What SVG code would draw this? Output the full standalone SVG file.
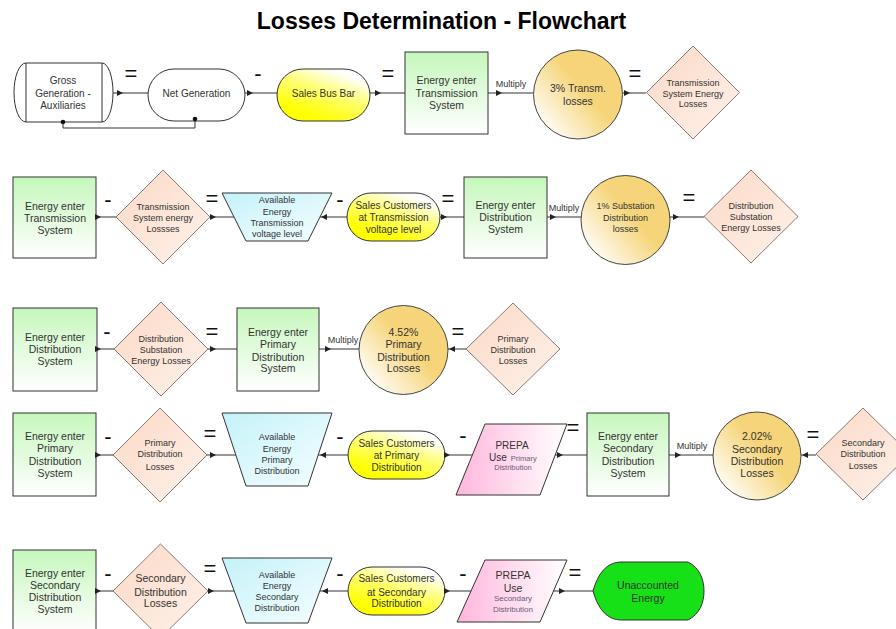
<svg xmlns="http://www.w3.org/2000/svg" xmlns:xlink="http://www.w3.org/1999/xlink" width="896" height="629" viewBox="0 0 896 629">
<defs>
<linearGradient id="gGreen" x1="0" y1="0" x2="0" y2="1"><stop offset="0" stop-color="#c6f7bc"/><stop offset="1" stop-color="#ffffff"/></linearGradient>
<linearGradient id="gYellow" x1="0.2" y1="1" x2="0.8" y2="0"><stop offset="0.15" stop-color="#ffff00"/><stop offset="0.55" stop-color="#ffff70"/><stop offset="0.9" stop-color="#ffffff"/></linearGradient>
<linearGradient id="gOrange" x1="0.1" y1="0.9" x2="0.8" y2="0.3"><stop offset="0" stop-color="#ffffff"/><stop offset="0.7" stop-color="#f6d57a"/></linearGradient>
<linearGradient id="gPeach" x1="0" y1="0" x2="1" y2="1"><stop offset="0" stop-color="#fbd9c6"/><stop offset="1" stop-color="#fff2eb"/></linearGradient>
<linearGradient id="gCyan" x1="0" y1="0" x2="1" y2="1"><stop offset="0" stop-color="#c4f2f9"/><stop offset="1" stop-color="#f6feff"/></linearGradient>
<linearGradient id="gPink" x1="0" y1="0" x2="1" y2="0"><stop offset="0" stop-color="#ffb6dc"/><stop offset="1" stop-color="#ffffff"/></linearGradient>
<path id="ar" d="M0,0 L-6,-3 L-6,3 Z" fill="#222"/>
</defs>
<style>
.t{font-family:"Liberation Sans",Arial,sans-serif;fill:#333;text-anchor:middle}
.s10{font-size:10px}
.s105{font-size:10.5px}
.s9{font-size:9px}
.sm{font-family:"Liberation Sans",Arial,sans-serif;fill:#6b5b7b;font-size:7.5px;text-anchor:middle}
.op{font-family:"Liberation Sans",Arial,sans-serif;font-size:22px;fill:#111;text-anchor:middle}
.ln{stroke:#333;stroke-width:1;fill:none}
.box{fill:url(#gGreen);stroke:#333;stroke-width:1}
.stad{fill:url(#gYellow);stroke:#333;stroke-width:1}
.circ{fill:url(#gOrange);stroke:#444;stroke-width:1}
.dia{fill:url(#gPeach);stroke:#8a7a72;stroke-width:1}
.trap{fill:url(#gCyan);stroke:#333;stroke-width:1}
.para{fill:url(#gPink);stroke:#333;stroke-width:1}
</style>
<rect width="896" height="629" fill="#ffffff"/>
<text x="441.5" y="29" font-family="Liberation Sans, Arial, sans-serif" font-size="23" font-weight="bold" text-anchor="middle" fill="#000">Losses Determination - Flowchart</text>

<g id="operators">
<text class="op" x="131" y="81">=</text>
<text class="op" x="258" y="81">-</text>
<text class="op" x="388" y="81">=</text>
<text class="op" x="635" y="81">=</text>
<text class="op" x="108" y="207">-</text>
<text class="op" x="212" y="206">=</text>
<text class="op" x="340" y="207">-</text>
<text class="op" x="448" y="206">=</text>
<text class="op" x="689" y="205">=</text>
<text class="op" x="107" y="339">-</text>
<text class="op" x="212" y="339">=</text>
<text class="op" x="458" y="339">=</text>
<text class="op" x="108" y="444">-</text>
<text class="op" x="210" y="441">=</text>
<text class="op" x="340" y="444">-</text>
<text class="op" x="463" y="443">-</text>
<text class="op" x="573" y="435">=</text>
<text class="op" x="813" y="442">=</text>
<text class="op" x="108" y="581">-</text>
<text class="op" x="210" y="576">=</text>
<text class="op" x="340" y="581">-</text>
<text class="op" x="463" y="581">-</text>
<text class="op" x="575" y="580">=</text>
</g>

<!-- Row 1 -->
<g id="gross">
<path d="M26,63 L102,63 A11,29.5 0 0 1 102,122 L26,122 A12,29.5 0 0 1 26,63 Z" fill="#fff" stroke="#333"/>
<line class="ln" x1="26" y1="63" x2="26" y2="122"/>
<line class="ln" x1="102" y1="63" x2="102" y2="122"/>
<text class="t s10" x="63" y="84">Gross</text>
<text class="t s10" x="63" y="96.5">Generation -</text>
<text class="t s10" x="63" y="108.5">Auxiliaries</text>
</g>
<g id="net_generation">
<rect x="148" y="69" width="97" height="52" rx="26" fill="#fff" stroke="#333"/>
<text class="t s10" x="196.5" y="96.5">Net Generation</text>
</g>
<g id="sales_bus_bar">
<rect x="277" y="69" width="93" height="52" rx="26" class="stad"/>
<text class="t s10" x="323.5" y="96.5">Sales Bus Bar</text>
</g>
<g id="energy_transmission_1">
<rect x="405" y="52" width="83" height="82" class="box"/>
<text class="t s105" x="446.5" y="84">Energy enter</text>
<text class="t s105" x="446.5" y="97">Transmission</text>
<text class="t s105" x="446.5" y="109">System</text>
</g>
<g id="transm_losses_pct">
<circle cx="578" cy="94.5" r="44.5" class="circ"/>
<text class="t s105" x="578" y="92">3% Transm.</text>
<text class="t s105" x="578" y="105">losses</text>
</g>
<g id="transmission_energy_losses_1">
<polygon points="693,46 739.5,92.5 693,139 646.5,92.5" class="dia"/>
<text class="t s9" x="693" y="86">Transmission</text>
<text class="t s9" x="693" y="96.5">System Energy</text>
<text class="t s9" x="693" y="107">Losses</text>
</g>

<!-- Row 2 -->
<g id="energy_transmission_2">
<rect x="13" y="177" width="83" height="81" class="box"/>
<text class="t s105" x="55" y="210">Energy enter</text>
<text class="t s105" x="55" y="222">Transmission</text>
<text class="t s105" x="55" y="234">System</text>
</g>
<g id="transmission_energy_losses_2">
<polygon points="163,170 210,217 163,264 116,217" class="dia"/>
<text class="t s9" x="163" y="210">Transmission</text>
<text class="t s9" x="163" y="221">System energy</text>
<text class="t s9" x="163" y="232">Lossses</text>
</g>
<g id="available_transmission">
<polygon points="222,193 332,193 308,241 246,241" class="trap"/>
<text class="t s9" x="277" y="203">Available</text>
<text class="t s9" x="277" y="215">Energy</text>
<text class="t s9" x="277" y="226">Transmission</text>
<text class="t s9" x="277" y="237">voltage level</text>
</g>
<g id="sales_transmission">
<rect x="347" y="193" width="93" height="48" rx="24" class="stad"/>
<text class="t s10" x="393.5" y="208.5">Sales Customers</text>
<text class="t s10" x="393.5" y="220.5">at Transmission</text>
<text class="t s10" x="393.5" y="232.5">voltage level</text>
</g>
<g id="energy_distribution_1">
<rect x="464" y="177" width="83" height="81" class="box"/>
<text class="t s105" x="505.5" y="209">Energy enter</text>
<text class="t s105" x="505.5" y="221">Distribution</text>
<text class="t s105" x="505.5" y="233">System</text>
</g>
<g id="substation_losses_pct">
<circle cx="625.5" cy="220" r="44.5" class="circ"/>
<text class="t s9" x="625.5" y="209">1% Substation</text>
<text class="t s9" x="625.5" y="221">Distribution</text>
<text class="t s9" x="625.5" y="232">losses</text>
</g>
<g id="substation_energy_losses_1">
<polygon points="751,170 798,216.5 751,263 704,216.5" class="dia"/>
<text class="t s9" x="751" y="209">Distribution</text>
<text class="t s9" x="751" y="219.5">Substation</text>
<text class="t s9" x="751" y="230.5">Energy Losses</text>
</g>

<!-- Row 3 -->
<g id="energy_distribution_2">
<rect x="13" y="308" width="84" height="83" class="box"/>
<text class="t s105" x="55" y="341">Energy enter</text>
<text class="t s105" x="55" y="353">Distribution</text>
<text class="t s105" x="55" y="365">System</text>
</g>
<g id="substation_energy_losses_2">
<polygon points="161,302 208,349 161,396 114,349" class="dia"/>
<text class="t s9" x="161" y="342">Distribution</text>
<text class="t s9" x="161" y="353">Substation</text>
<text class="t s9" x="161" y="363.5">Energy Losses</text>
</g>
<g id="energy_primary_1">
<rect x="237" y="308" width="82" height="83" class="box"/>
<text class="t s105" x="278" y="336">Energy enter</text>
<text class="t s105" x="278" y="348">Primary</text>
<text class="t s105" x="278" y="361">Distribution</text>
<text class="t s105" x="278" y="372">System</text>
</g>
<g id="primary_losses_pct">
<circle cx="403.5" cy="350" r="44.5" class="circ"/>
<text class="t s105" x="403.5" y="336">4.52%</text>
<text class="t s105" x="403.5" y="348">Primary</text>
<text class="t s105" x="403.5" y="361">Distribution</text>
<text class="t s105" x="403.5" y="372">Losses</text>
</g>
<g id="primary_losses_1">
<polygon points="513,303 560,349 513,395 466,349" class="dia"/>
<text class="t s9" x="513" y="342">Primary</text>
<text class="t s9" x="513" y="353">Distribution</text>
<text class="t s9" x="513" y="364">Losses</text>
</g>

<!-- Row 4 -->
<g id="energy_primary_2">
<rect x="13" y="413" width="83" height="83" class="box"/>
<text class="t s105" x="55" y="440">Energy enter</text>
<text class="t s105" x="55" y="452">Primary</text>
<text class="t s105" x="55" y="465">Distribution</text>
<text class="t s105" x="55" y="477">System</text>
</g>
<g id="primary_losses_2">
<polygon points="160,408 207,455 160,502 113,455" class="dia"/>
<text class="t s9" x="160" y="446">Primary</text>
<text class="t s9" x="160" y="457">Distribution</text>
<text class="t s9" x="160" y="470">Losses</text>
</g>
<g id="available_primary">
<polygon points="222,413 332,413 308,486 246,486" class="trap"/>
<text class="t s9" x="277" y="440">Available</text>
<text class="t s9" x="277" y="452">Energy</text>
<text class="t s9" x="277" y="463">Primary</text>
<text class="t s9" x="277" y="474">Distribution</text>
</g>
<g id="sales_primary">
<rect x="348" y="431" width="97" height="48" rx="24" class="stad"/>
<text class="t s10" x="396.5" y="446.5">Sales Customers</text>
<text class="t s10" x="396.5" y="458.5">at Primary</text>
<text class="t s10" x="396.5" y="470.5">Distribution</text>
</g>
<g id="prepa_primary">
<polygon points="485,424 567,424 540,495 456,495" class="para"/>
<text class="t s10" x="512" y="449">PREPA</text>
<text class="t s10" x="489" y="461" style="text-anchor:start">Use<tspan class="sm" dx="4" style="text-anchor:start">Primary</tspan></text>
<text class="sm" x="513" y="469.5">Distribution</text>
</g>
<g id="energy_secondary_1">
<rect x="587" y="413" width="82" height="83" class="box"/>
<text class="t s105" x="628" y="440">Energy enter</text>
<text class="t s105" x="628" y="452">Secondary</text>
<text class="t s105" x="628" y="465">Distribution</text>
<text class="t s105" x="628" y="477">System</text>
</g>
<g id="secondary_losses_pct">
<circle cx="757" cy="456" r="44" class="circ"/>
<text class="t s105" x="757" y="440">2.02%</text>
<text class="t s105" x="757" y="452.5">Secondary</text>
<text class="t s105" x="757" y="465">Distribution</text>
<text class="t s105" x="757" y="477">Losses</text>
</g>
<g id="secondary_losses_1">
<polygon points="863,408 910,454 863,500 816,454" class="dia"/>
<text class="t s9" x="863" y="446">Secondary</text>
<text class="t s9" x="863" y="457">Distribution</text>
<text class="t s9" x="863" y="469">Losses</text>
</g>

<!-- Row 5 -->
<g id="energy_secondary_2">
<rect x="13" y="550" width="83" height="83" class="box"/>
<text class="t s105" x="55" y="577">Energy enter</text>
<text class="t s105" x="55" y="589">Secondary</text>
<text class="t s105" x="55" y="601">Distribution</text>
<text class="t s105" x="55" y="613">System</text>
</g>
<g id="secondary_losses_2">
<polygon points="160.5,544 208,591 160.5,638 113,591" class="dia"/>
<text class="t s105" x="160.5" y="582">Secondary</text>
<text class="t s105" x="160.5" y="596">Distribution</text>
<text class="t s105" x="160.5" y="607">Losses</text>
</g>
<g id="available_secondary">
<polygon points="222,558 332,558 308,623 246,623" class="trap"/>
<text class="t s9" x="277" y="578">Available</text>
<text class="t s9" x="277" y="589">Energy</text>
<text class="t s9" x="277" y="600">Secondary</text>
<text class="t s9" x="277" y="611">Distribution</text>
</g>
<g id="sales_secondary">
<rect x="348" y="567" width="97" height="48" rx="24" class="stad"/>
<text class="t s10" x="396.5" y="581.5">Sales Customers</text>
<text class="t s10" x="396.5" y="595.5">at Secondary</text>
<text class="t s10" x="396.5" y="606.5">Distribution</text>
</g>
<g id="prepa_secondary">
<polygon points="485,560 567,560 540,622 457,622" class="para"/>
<text class="t s105" x="513" y="579">PREPA</text>
<text class="t s105" x="513" y="592">Use</text>
<text class="sm" x="513" y="600.5" style="font-size:8px">Secondary</text>
<text class="sm" x="513" y="611.5" style="font-size:8px">Distribution</text>
</g>
<g id="unaccounted_energy">
<path d="M593,591 C598,574 606,562 622,562 L688,562 C700,568 704,580 704,591 C704,602 700,614 688,620 L622,620 C606,620 598,608 593,591 Z" fill="#16e016" stroke="#333"/>
<text class="t s105" x="648" y="589">Unaccounted</text>
<text class="t s105" x="648" y="602">Energy</text>
</g>

<g id="connectors">
<!-- row 1 -->
<line class="ln" x1="113" y1="93" x2="148" y2="93"/>
<polyline class="ln" points="63,122 63,128 195,128 195,119"/>
<circle cx="63" cy="122" r="2.3" fill="#111"/>
<circle cx="195" cy="119" r="2.3" fill="#111"/>
<line class="ln" x1="245" y1="93" x2="277" y2="93"/>
<line class="ln" x1="370" y1="93" x2="405" y2="93"/>
<line class="ln" x1="488" y1="93" x2="533" y2="93"/>
<line class="ln" x1="623" y1="93" x2="646" y2="93"/>
<use xlink:href="#ar" href="#ar" transform="translate(123,93)"/>
<use xlink:href="#ar" href="#ar" transform="translate(253,93)"/>
<use xlink:href="#ar" href="#ar" transform="translate(381,93)"/>
<use xlink:href="#ar" href="#ar" transform="translate(502,93)"/>
<use xlink:href="#ar" href="#ar" transform="translate(630,93)"/>
<!-- row 2 -->
<line class="ln" x1="96" y1="217" x2="116" y2="217"/>
<line class="ln" x1="210" y1="217" x2="234" y2="217"/>
<line class="ln" x1="320" y1="217" x2="347" y2="217"/>
<line class="ln" x1="440" y1="217" x2="464" y2="217"/>
<line class="ln" x1="547" y1="217" x2="581" y2="217"/>
<line class="ln" x1="670" y1="217" x2="704" y2="217"/>
<use xlink:href="#ar" href="#ar" transform="translate(101,217)"/>
<use xlink:href="#ar" href="#ar" transform="translate(216,217)"/>
<use xlink:href="#ar" href="#ar" transform="translate(321,217) rotate(180)"/>
<use xlink:href="#ar" href="#ar" transform="translate(447,217)"/>
<use xlink:href="#ar" href="#ar" transform="translate(556,217)"/>
<use xlink:href="#ar" href="#ar" transform="translate(679,217)"/>
<!-- row 3 -->
<line class="ln" x1="97" y1="349" x2="114" y2="349"/>
<line class="ln" x1="208" y1="349" x2="237" y2="349"/>
<line class="ln" x1="319" y1="349" x2="359" y2="349"/>
<line class="ln" x1="448" y1="349" x2="466" y2="349"/>
<use xlink:href="#ar" href="#ar" transform="translate(101,349)"/>
<use xlink:href="#ar" href="#ar" transform="translate(216,349)"/>
<use xlink:href="#ar" href="#ar" transform="translate(331,349)"/>
<use xlink:href="#ar" href="#ar" transform="translate(449,349) rotate(180)"/>
<!-- row 4 -->
<line class="ln" x1="96" y1="455" x2="113" y2="455"/>
<line class="ln" x1="207" y1="455" x2="236" y2="455"/>
<line class="ln" x1="318" y1="455" x2="348" y2="455"/>
<line class="ln" x1="445" y1="455" x2="472" y2="455"/>
<line class="ln" x1="555" y1="455" x2="587" y2="455"/>
<line class="ln" x1="669" y1="455" x2="713" y2="455"/>
<line class="ln" x1="801" y1="455" x2="816" y2="455"/>
<use xlink:href="#ar" href="#ar" transform="translate(101,455)"/>
<use xlink:href="#ar" href="#ar" transform="translate(216,455)"/>
<use xlink:href="#ar" href="#ar" transform="translate(320,455) rotate(180)"/>
<use xlink:href="#ar" href="#ar" transform="translate(450,455)"/>
<use xlink:href="#ar" href="#ar" transform="translate(563,455)"/>
<use xlink:href="#ar" href="#ar" transform="translate(681,455)"/>
<use xlink:href="#ar" href="#ar" transform="translate(802,455) rotate(180)"/>
<!-- row 5 -->
<line class="ln" x1="96" y1="591" x2="113" y2="591"/>
<line class="ln" x1="208" y1="591" x2="234" y2="591"/>
<line class="ln" x1="320" y1="591" x2="348" y2="591"/>
<line class="ln" x1="445" y1="591" x2="471" y2="591"/>
<line class="ln" x1="553" y1="591" x2="593" y2="591"/>
<use xlink:href="#ar" href="#ar" transform="translate(101,591)"/>
<use xlink:href="#ar" href="#ar" transform="translate(214,591)"/>
<use xlink:href="#ar" href="#ar" transform="translate(322,591) rotate(180)"/>
<use xlink:href="#ar" href="#ar" transform="translate(450,591)"/>
<use xlink:href="#ar" href="#ar" transform="translate(565,591)"/>
<!-- labels -->
<text class="t s9" x="511" y="87">Multiply</text>
<text class="t s9" x="564" y="211">Multiply</text>
<text class="t s9" x="343" y="343">Multiply</text>
<text class="t s9" x="692" y="449">Multiply</text>
</g>
</svg>
